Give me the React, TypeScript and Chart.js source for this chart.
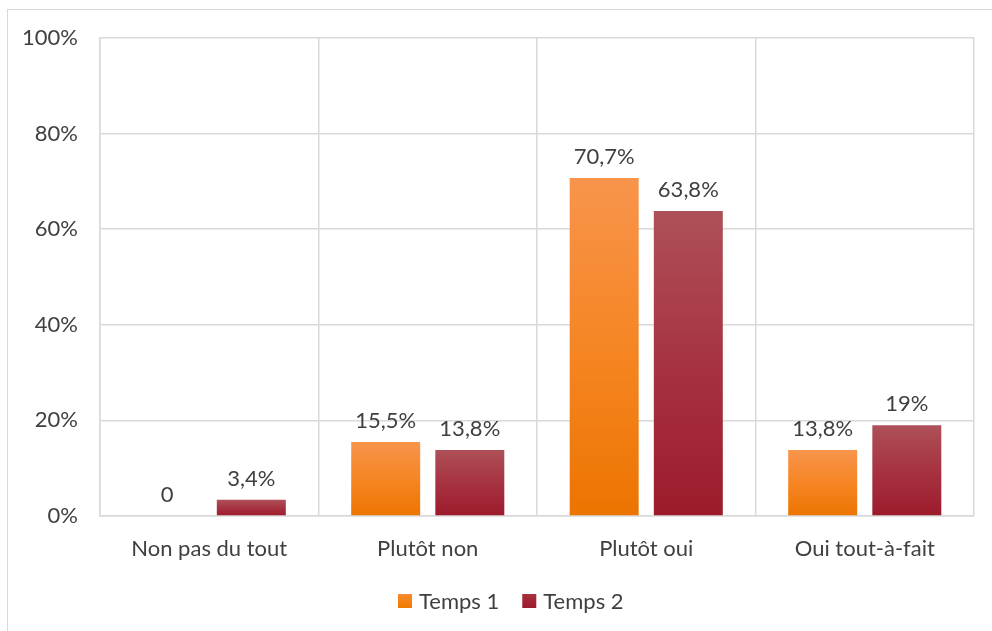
import React, { useEffect, useRef } from "react";
import { Chart, registerables } from "chart.js";

Chart.register(...registerables);

const categories = ["Non pas du tout", "Plutôt non", "Plutôt oui", "Oui tout-à-fait"];
const seriesNames = ["Temps 1", "Temps 2"];
const temps1 = [0, 15.5, 70.7, 13.8];
const temps2 = [3.4, 13.8, 63.8, 19];
const temps1Labels = ["0", "15,5%", "70,7%", "13,8%"];
const temps2Labels = ["3,4%", "13,8%", "63,8%", "19%"];
const yTicks = [0, 20, 40, 60, 80, 100];

const FONT = "Lato, 'Noto Sans', sans-serif";
const FS = 22;
const TEXT = "#404040";
const GRID = "#D9D9D9";

const gradStops = [
  ["#F8944C", "#F58420", "#EC7400"],
  ["#AE5058", "#A63040", "#9C1B2B"],
];
const legendColors = [
  ["#F98A2E", "#EF7A00"],
  ["#A8303E", "#9C1B2B"],
];

function gradientFor(di: number) {
  return (ctx: any) => {
    const chart = ctx.chart;
    const y = chart.scales?.y;
    if (!y || ctx.type !== "data") return gradStops[di][1];
    const top = y.getPixelForValue(ctx.raw);
    const base = y.getPixelForValue(0);
    if (!isFinite(top) || !isFinite(base) || Math.abs(base - top) < 0.5) return gradStops[di][2];
    const g = chart.ctx.createLinearGradient(0, top, 0, base);
    g.addColorStop(0, gradStops[di][0]);
    g.addColorStop(0.55, gradStops[di][1]);
    g.addColorStop(1, gradStops[di][2]);
    return g;
  };
}

const labelPlugin = {
  id: "barLabels",
  afterDatasetsDraw(chart: any) {
    const c = chart.ctx;
    const allLabels = [temps1Labels, temps2Labels];
    c.save();
    c.font = `${FS}px ${FONT}`;
    c.fillStyle = TEXT;
    c.textAlign = "center";
    c.textBaseline = "bottom";
    chart.data.datasets.forEach((_: any, di: number) => {
      const meta = chart.getDatasetMeta(di);
      meta.data.forEach((el: any, i: number) => {
        c.fillText(allLabels[di][i], el.x, el.y - 10);
      });
    });
    c.restore();
  },
};

const legendPlugin = {
  id: "customLegend",
  afterDraw(chart: any) {
    const c = chart.ctx;
    const box = 14;
    const gapText = 7;
    const gapItem = 23;
    c.save();
    c.font = `${FS}px ${FONT}`;
    const widths = seriesNames.map((n) => box + gapText + c.measureText(n).width);
    const total = widths.reduce((a, b) => a + b, 0) + gapItem * (seriesNames.length - 1);
    const cx = chart.chartArea.left + (chart.chartArea.right - chart.chartArea.left) * 0.47;
    let x = cx - total / 2;
    const cy = chart.chartArea.bottom + 85;
    seriesNames.forEach((n, i) => {
      const g = c.createLinearGradient(0, cy - box / 2, 0, cy + box / 2);
      g.addColorStop(0, legendColors[i][0]);
      g.addColorStop(1, legendColors[i][1]);
      c.fillStyle = g;
      c.fillRect(x, cy - box / 2, box, box);
      c.fillStyle = TEXT;
      c.textAlign = "left";
      c.textBaseline = "middle";
      c.fillText(n, x + box + gapText, cy + 1);
      x += widths[i] + gapItem;
    });
    c.restore();
  },
};

export default function App() {
  const ref = useRef<HTMLCanvasElement | null>(null);
  useEffect(() => {
    if (!ref.current) return;
    const chart = new Chart(ref.current, {
      type: "bar",
      data: {
        labels: categories,
        datasets: [
          {
            label: seriesNames[0],
            data: temps1,
            backgroundColor: gradientFor(0),
            categoryPercentage: 0.77,
            barPercentage: 0.82,
          },
          {
            label: seriesNames[1],
            data: temps2,
            backgroundColor: gradientFor(1),
            categoryPercentage: 0.77,
            barPercentage: 0.82,
          },
        ],
      },
      options: {
        responsive: false,
        animation: false,
        devicePixelRatio: 1,
        layout: { padding: { top: 38, right: 18, left: 0, bottom: 51 } },
        plugins: {
          tooltip: { enabled: false },
          legend: { display: false },
        },
        scales: {
          x: {
            grid: { color: GRID, lineWidth: 1.5, drawTicks: false, offset: true },
            border: { color: GRID, width: 1.5 },
            ticks: { font: { family: FONT, size: FS }, color: TEXT, padding: 20 },
            afterFit: (s: any) => {
              s.height = 64;
            },
          },
          y: {
            min: 0,
            max: 100,
            afterBuildTicks: (s: any) => {
              s.ticks = yTicks.map((v) => ({ value: v }));
            },
            grid: { color: GRID, lineWidth: 1.5, drawTicks: false },
            border: { color: GRID, width: 1.5 },
            ticks: {
              font: { family: FONT, size: FS },
              color: TEXT,
              padding: 22,
              callback: (v: any) => v + "%",
            },
            afterFit: (s: any) => {
              s.width = 100;
            },
          },
        },
      },
      plugins: [labelPlugin, legendPlugin],
    });
    return () => chart.destroy();
  }, []);
  return (
    <div style={{ position: "fixed", left: 0, top: 0, width: 992, height: 631, overflow: "hidden", background: "#fff" }}>
      <div
        style={{
          position: "absolute",
          left: 7,
          top: 9,
          width: 1100,
          height: 800,
          border: "1.5px solid #D9D9D9",
        }}
      />
      <canvas ref={ref} width={992} height={631} style={{ position: "absolute", left: 0, top: 0, width: 992, height: 631 }} />
    </div>
  );
}
